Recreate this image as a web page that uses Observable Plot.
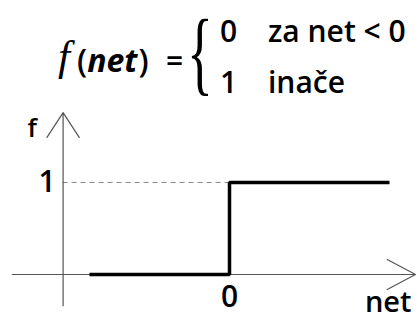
<!DOCTYPE html>
<html><head><meta charset="utf-8">
<script src="https://cdn.jsdelivr.net/npm/d3@7"></script>
<script src="https://cdn.jsdelivr.net/npm/@observablehq/plot@0.6"></script>
<style>
body{margin:0;background:#fff;}
#chart{width:419px;height:321px;position:relative;}
#chart svg{display:block;}
#hdr{position:absolute;left:0;top:0;overflow:visible;}
#plotwrap{position:absolute;left:0;top:100px;}
</style></head><body><div id="chart"><div id="plotwrap"></div></div>
<script>
// ---- data ----
const stepNet = [-3.5, 0, 4];        // breakpoints of the step function (net)
const stepF = [0, 1, 1];             // f(net), step-after
const caseValues = ["0", "1"];
const caseConds = ["za net < 0", "inače"];
const yTickValues = [1];
const yTickLabels = ["1"];
const xTickValues = [0];
const xTickLabels = ["0"];
const xAxisName = "net";
const yAxisName = "f";
const xAxisExtent = [-5.43, 4.65];   // drawn extent of the net axis
const yAxisExtent = [-0.34, 1.76];   // drawn extent of the f axis
const yAxisAt = -4.16;               // net value where the f axis crosses

const W = 419, H = 221;
const FONT = "Open Sans";

// ---- plot ----
const plot = Plot.plot({
  width: W, height: H,
  margin: 0,
  x: {domain: [-229 / 40, 190 / 40], axis: null},
  y: {domain: [-0.511, 1.891], axis: null},
  style: {fontFamily: FONT, background: "transparent"},
  marks: [
    Plot.ruleY(yTickValues, {x1: yAxisAt, x2: xTickValues[0], stroke: "#888", strokeWidth: 1, strokeDasharray: "5,4"}),
    Plot.arrow([0], {x1: xAxisExtent[0], x2: xAxisExtent[1], y1: 0, y2: 0, stroke: "#555", strokeWidth: 1.2, headAngle: 56, headLength: 40}),
    Plot.arrow([0], {x1: yAxisAt, x2: yAxisAt, y1: yAxisExtent[0], y2: yAxisExtent[1], stroke: "#555", strokeWidth: 1.2, headAngle: 66, headLength: 37}),
    Plot.line(stepNet.map((n, i) => ({net: n, f: stepF[i]})), {x: "net", y: "f", curve: "step-after", stroke: "#000", strokeWidth: 3.5, strokeLinecap: "butt", strokeLinejoin: "miter"}),
    Plot.text(yTickValues, {x: yAxisAt, y: d => d, text: (d, i) => yTickLabels[i], dx: -16, fontSize: 30, fontWeight: 600, fill: "#000"}),
    Plot.text(xTickValues, {x: d => d, y: 0, text: (d, i) => xTickLabels[i], dy: 23, fontSize: 30, fontWeight: 600, fill: "#000"}),
    Plot.text([yAxisName], {x: yAxisAt, y: yAxisExtent[1], text: d => d, dx: -31, dy: 16, fontSize: 26, fontWeight: 600, fill: "#000"}),
    Plot.text([xAxisName], {x: xAxisExtent[1], y: 0, text: d => d, dx: -4, dy: 28, textAnchor: "end", fontSize: 29, fontWeight: 600, fill: "#000"})
  ]
});
document.getElementById("plotwrap").appendChild(plot);

// ---- header (formula) ----
const hdr = d3.select("#chart").append("svg").attr("id", "hdr").attr("width", W).attr("height", 110);
hdr.append("text").attr("x", 58).attr("y", 70)
  .attr("font-family", "Liberation Serif").attr("font-style", "italic").attr("font-size", 43).text("f");
const fn = hdr.append("text").attr("x", 77).attr("y", 72).attr("font-family", FONT);
fn.append("tspan").attr("font-weight", 600).attr("font-size", 32).text("(");
fn.append("tspan").attr("font-style", "italic").attr("font-weight", 700).attr("font-size", 32).text("net");
fn.append("tspan").attr("font-weight", 600).attr("font-size", 32).attr("dx", 1).text(")");
hdr.append("text").attr("x", 166).attr("y", 72)
  .attr("font-family", FONT).attr("font-weight", 600).attr("font-size", 30).text("=");
hdr.append("text").attr("transform", "translate(187,84) scale(0.9,1.55)")
  .attr("font-family", "Liberation Serif").attr("font-size", 60).text("{");
const rowBase = [42, 93];
caseValues.forEach((v, i) => {
  hdr.append("text").attr("x", 220).attr("y", rowBase[i])
    .attr("font-family", FONT).attr("font-weight", 600).attr("font-size", 30).text(v);
  hdr.append("text").attr("x", 268).attr("y", rowBase[i])
    .attr("font-family", FONT).attr("font-weight", 600).attr("font-size", 30).text(caseConds[i]);
});
</script>
</body></html>
